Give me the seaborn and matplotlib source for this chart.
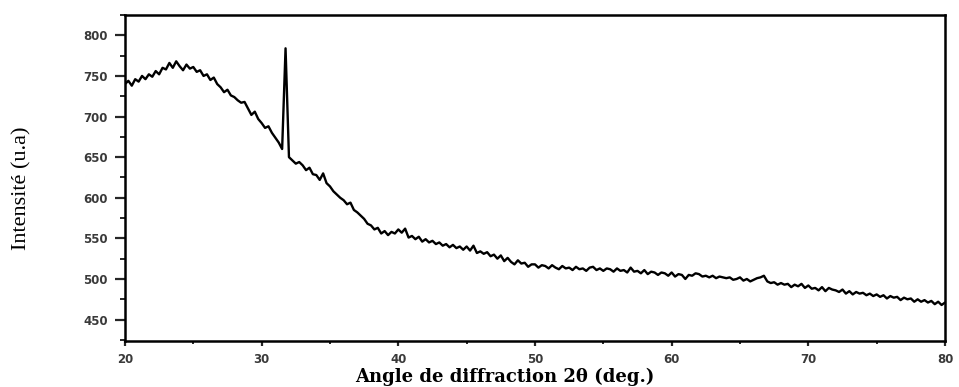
import numpy as np
import pandas as pd
import matplotlib
matplotlib.use("Agg")
import matplotlib.pyplot as plt
from matplotlib.ticker import MultipleLocator
import seaborn as sns

# Diffraction angle grid (2-theta, degrees), scan step 0.25 deg
two_theta = np.arange(20.0, 80.001, 0.25)

# Measured intensity (a.u.), four readings per degree
intensity = [
    740, 744, 738, 746,   # 20
    743, 750, 746, 752,   # 21
    749, 756, 752, 760,   # 22
    758, 766, 760, 768,   # 23
    762, 757, 764, 759,   # 24
    761, 755, 757, 750,   # 25
    752, 745, 748, 740,   # 26
    736, 730, 733, 726,   # 27
    724, 720, 717, 718,   # 28
    710, 702, 706, 697,   # 29
    692, 686, 688, 680,   # 30
    674, 668, 660, 784,   # 31
    650, 646, 642, 644,   # 32
    640, 634, 637, 629,   # 33
    628, 622, 630, 618,   # 34
    614, 608, 604, 600,   # 35
    597, 592, 594, 585,   # 36
    582, 578, 574, 568,   # 37
    566, 561, 563, 556,   # 38
    559, 554, 558, 556,   # 39
    561, 557, 562, 551,   # 40
    553, 549, 552, 546,   # 41
    549, 545, 547, 543,   # 42
    545, 541, 543, 539,   # 43
    542, 538, 540, 536,   # 44
    540, 535, 541, 532,   # 45
    534, 531, 533, 528,   # 46
    530, 525, 529, 522,   # 47
    526, 521, 518, 523,   # 48
    519, 520, 515, 518,   # 49
    518, 514, 517, 516,   # 50
    513, 517, 514, 512,   # 51
    516, 513, 514, 511,   # 52
    515, 512, 513, 510,   # 53
    514, 515, 511, 513,   # 54
    510, 513, 512, 509,   # 55
    513, 510, 511, 508,   # 56
    514, 509, 510, 507,   # 57
    511, 506, 509, 508,   # 58
    505, 508, 507, 504,   # 59
    508, 503, 506, 505,   # 60
    500, 505, 504, 507,   # 61
    506, 503, 504, 502,   # 62
    504, 501, 503, 502,   # 63
    501, 502, 499, 500,   # 64
    502, 498, 500, 497,   # 65
    499, 501, 502, 504,   # 66
    497, 495, 496, 493,   # 67
    495, 493, 494, 490,   # 68
    493, 491, 494, 489,   # 69
    492, 488, 489, 486,   # 70
    490, 485, 489, 487,   # 71
    486, 484, 487, 482,   # 72
    485, 481, 484, 482,   # 73
    483, 480, 482, 479,   # 74
    481, 478, 480, 476,   # 75
    479, 477, 478, 474,   # 76
    477, 475, 476, 472,   # 77
    475, 472, 474, 471,   # 78
    473, 469, 472, 468,   # 79
    471,                  # 80
]

x_ticks = [20, 30, 40, 50, 60, 70, 80]
y_ticks = [450, 500, 550, 600, 650, 700, 750, 800]

df = pd.DataFrame({"two_theta": two_theta, "intensity": intensity})

sns.set_style("ticks")

fig = plt.figure(figsize=(9.59, 3.87), dpi=100)
ax = fig.add_axes([0.1303, 0.1196, 0.8551, 0.8416])

sns.lineplot(data=df, x="two_theta", y="intensity", ax=ax,
             color="black", linewidth=1.7)

ax.set_xlim(20, 80)
ax.set_ylim(424, 825)
ax.set_xticks(x_ticks)
ax.set_yticks(y_ticks)
ax.xaxis.set_minor_locator(MultipleLocator(5))
ax.yaxis.set_minor_locator(MultipleLocator(25))

for side in ["left", "bottom", "top", "right"]:
    ax.spines[side].set_visible(True)
    ax.spines[side].set_linewidth(1.8)
    ax.spines[side].set_color("black")

ax.tick_params(axis="y", which="major", direction="out", length=7.5, width=1.6,
               pad=5, labelsize=8.5, labelcolor="#3a3a3a")
ax.tick_params(axis="y", which="minor", direction="out", length=3.5, width=1.4)
ax.tick_params(axis="x", which="major", direction="out", length=3.5, width=1.6,
               pad=5, labelsize=8.5, labelcolor="#3a3a3a")
ax.tick_params(axis="x", which="minor", direction="out", length=2, width=1.4)
ax.tick_params(top=False, right=False)

for lab in ax.get_xticklabels() + ax.get_yticklabels():
    lab.set_fontweight("bold")
    lab.set_family("DejaVu Sans")

ax.set_xlabel("")
ax.set_ylabel("")

fig.text(22 / 959, 1 - 188 / 387, "Intensité (u.a)", rotation=90,
         ha="center", va="center", fontsize=16,
         family="Liberation Serif", color="black")
fig.text(505 / 959, 1 - 377 / 387, "Angle de diffraction 2θ (deg.)",
         ha="center", va="center", fontsize=13, fontweight="bold",
         family="DejaVu Serif", color="black")

fig.savefig("out.png", dpi=100, facecolor="white")
